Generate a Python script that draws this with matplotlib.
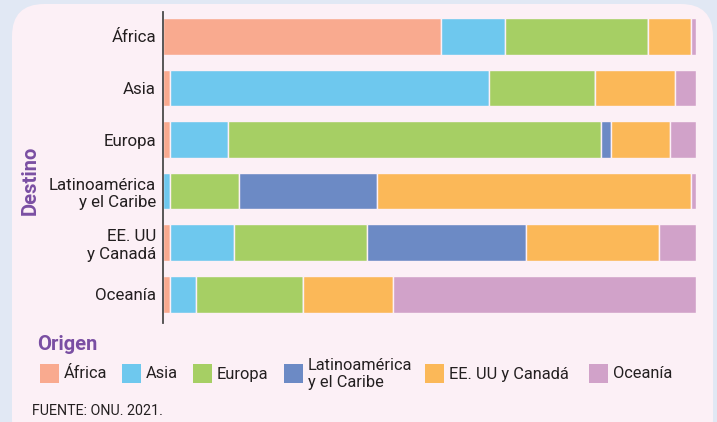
import matplotlib
matplotlib.use("Agg")
import matplotlib.pyplot as plt
from matplotlib.patches import FancyBboxPatch, Rectangle
import numpy as np

plt.rcParams['font.family'] = ['Roboto', 'DejaVu Sans']

# Destination regions (rows) and origin regions (stacked segments), in %
destinos = ["África", "Asia", "Europa", "Latinoamérica\ny el Caribe",
            "EE. UU\ny Canadá", "Oceanía"]
origenes = ["África", "Asia", "Europa", "Latinoamérica\ny el Caribe",
            "EE. UU y Canadá", "Oceanía"]

origen_africa = [52.2, 1.4, 1.4, 0.0, 1.3, 1.4]
origen_asia = [11.9, 59.7, 10.8, 1.4, 12.1, 4.8]
origen_europa = [26.9, 20.0, 69.9, 12.8, 24.8, 20.0]
origen_latam = [0.0, 0.0, 2.0, 26.0, 29.9, 0.0]
origen_eeuu = [8.0, 15.0, 11.0, 58.8, 25.0, 17.0]
origen_oceania = [1.0, 3.9, 4.9, 1.0, 6.9, 56.8]

colores = ["#F9AA8F", "#6EC8EE", "#A6CF64", "#6C8AC5", "#FBB858", "#D1A2C9"]

series = [origen_africa, origen_asia, origen_europa, origen_latam,
          origen_eeuu, origen_oceania]

W, H = 717, 422
fig = plt.figure(figsize=(W / 100, H / 100), dpi=100)
fig.patch.set_facecolor("#E1E8F4")

# rounded panel behind the chart
panel = FancyBboxPatch((12 / W, -30 / H), (713 - 12) / W, (418 + 30) / H,
                       boxstyle="round,pad=0,rounding_size=0.045",
                       transform=fig.transFigure, facecolor="#FCF0F6",
                       edgecolor="none", zorder=-5,
                       mutation_aspect=W / H)
fig.patches.append(panel)

ax = fig.add_axes([163 / W, 1 - 323 / H, (696 - 163) / W, (323 - 12) / H])
ax.set_facecolor("none")
ax.set_zorder(2)

y = np.arange(len(destinos))
left = np.zeros(len(destinos))
for vals, col in zip(series, colores):
    vals = np.array(vals)
    ax.barh(y, vals, left=left, height=0.71, color=col,
            edgecolor="#FCF0F6", linewidth=1.0, zorder=2)
    left += vals

ax.set_xlim(0, 100)
ax.set_ylim(5.557, -0.475)
ax.set_yticks(y)
ax.set_yticklabels(destinos, fontsize=12.2, color="#231F20", linespacing=1.2)
ax.tick_params(axis="y", length=0, pad=5)
ax.set_xticks([])
for s in ["top", "right", "bottom"]:
    ax.spines[s].set_visible(False)
ax.spines["left"].set_color("#4A4A4A")
ax.spines["left"].set_linewidth(1.3)

purple = "#7A4FA3"
fig.text(30 / W, 1 - 180 / H, "Destino", rotation=90, fontsize=14.5,
         fontweight="bold", color=purple, ha="center", va="center")

# legend
fig.text(37 / W, 1 - 344 / H, "Origen", fontsize=14.5, fontweight="bold",
         color=purple, ha="left", va="center")
leg_x = [40, 122, 193, 284, 425, 589]
for xp, lab, col in zip(leg_x, origenes, colores):
    fig.patches.append(Rectangle((xp / W, 1 - 383 / H), 19 / W, 19 / H,
                                 transform=fig.transFigure, facecolor=col,
                                 edgecolor="none", zorder=3))
    fig.text((xp + 24) / W, 1 - 374 / H, lab, fontsize=11.8, color="#231F20",
             ha="left", va="center", linespacing=1.15)

fig.text(32 / W, 1 - 411 / H, "FUENTE: ONU. 2021.", fontsize=10.3,
         color="#231F20", ha="left", va="center")

fig.savefig("out.png", dpi=100, facecolor=fig.get_facecolor())
